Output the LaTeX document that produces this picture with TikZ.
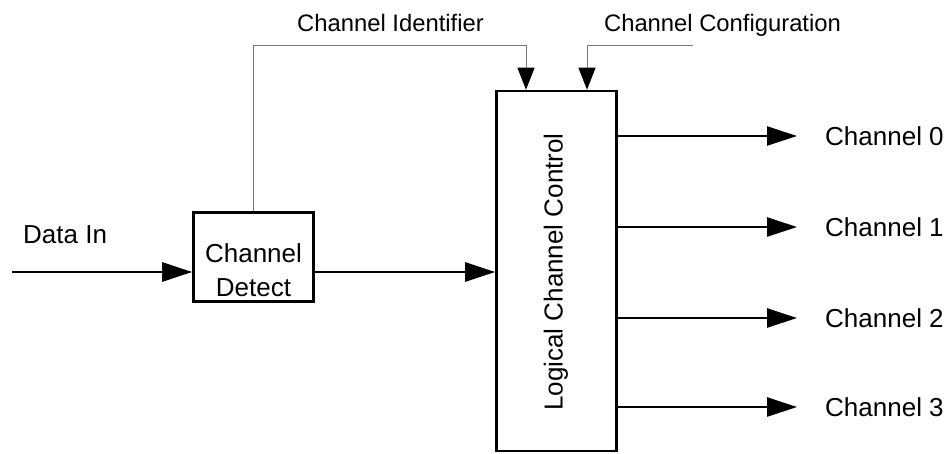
\documentclass[tikz,border=0pt]{standalone}
\usepackage{fontspec}
\setmainfont{Liberation Sans}
\usetikzlibrary{arrows.meta}
\definecolor{linegray}{RGB}{120,120,120}
\begin{document}
\begin{tikzpicture}[x=1pt,y=-1pt,
  box/.style={draw, line width=2.6pt, inner sep=0pt},
  thickarrow/.style={line width=2.6pt, -{Triangle[length=30pt,width=19pt]}},
  thinarrow/.style={line width=1pt, draw=linegray, -{Triangle[length=22pt,width=17pt,color=black]}},
  lbl/.style={font=\fontsize{26}{34}\selectfont, inner sep=0pt},
  toplbl/.style={font=\fontsize{23.8}{30}\selectfont, inner sep=0pt}]
\useasboundingbox (0,0) rectangle (950,453);

\node[box, minimum width=120pt, minimum height=89pt] (detect) at (253.5,257) {};
\node[lbl, align=center] (detecttext) at (253.5,270) {Channel\\Detect};

\node[box, minimum width=120pt, minimum height=360pt] (lcc) at (556.5,271) {};
\node[lbl, rotate=90] (lcctext) at (556,272) {Logical Channel Control};

\coordinate (din) at (12,272);
\draw[thickarrow] (din) -- (din -| detect.west);
\node[lbl, anchor=base west] (dinlabel) at (23,243) {Data In};
\draw[thickarrow] (detect.east |- din) -- (lcc.west |- din);

\coordinate (cid) at (526,45);
\draw[thinarrow] (detect.north) |- (cid) -- (cid |- lcc.north);
\coordinate (cfgstart) at (693,45);
\coordinate (cfg) at (587,45);
\draw[thinarrow] (cfgstart) -- (cfg) -- (cfg |- lcc.north);

\node[toplbl, anchor=base] (cidlabel) at (390.5,31) {Channel Identifier};
\node[toplbl, anchor=base] (cfglabel) at (722.5,31) {Channel Configuration};

\foreach \i/\y in {0/136,1/227,2/318,3/407}{
  \coordinate (o\i) at (797,\y);
  \draw[thickarrow] (lcc.east |- o\i) -- (o\i);
  \node[lbl, anchor=west] (ch\i) at (825,\y) {Channel \i};
}
\end{tikzpicture}
\end{document}
